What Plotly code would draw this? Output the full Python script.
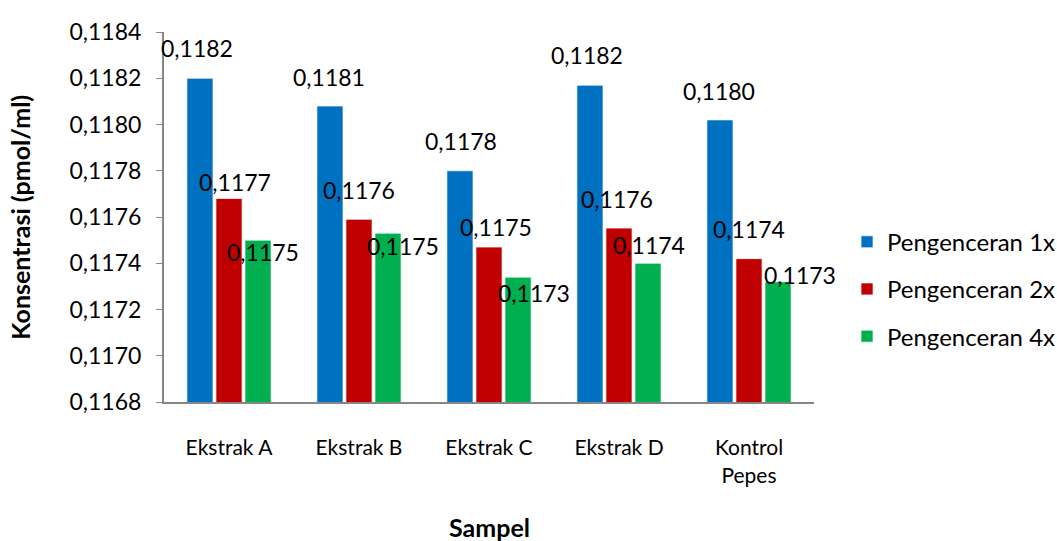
import plotly.graph_objects as go

categories = ["Ekstrak A", "Ekstrak B", "Ekstrak C", "Ekstrak D", "Kontrol<br>Pepes"]
series_names = ["Pengenceran 1x", "Pengenceran 2x", "Pengenceran 4x"]
pengenceran_1x = [0.11820, 0.11808, 0.11780, 0.11817, 0.11802]
pengenceran_2x = [0.11768, 0.11759, 0.11747, 0.117552, 0.11742]
pengenceran_4x = [0.11750, 0.11753, 0.11734, 0.11740, 0.11732]
y_ticks = [0.1168, 0.1170, 0.1172, 0.1174, 0.1176, 0.1178, 0.1180, 0.1182, 0.1184]

colors = ["#0070C0", "#C00000", "#00B050"]
FONT = "Lato"

# label styling (pixel offsets of the data labels, per series / point)
label_xshift = [[-32, -30, -28, -32, -30], [6, 0, 7, -2, 0], [34, 44, 45, 30, 51]]
label_yshift = [[28, 27, 28, 28, 27], [15, 27, 18, 27, 28], [-14, -15, -18, 16, 5]]

all_series = [pengenceran_1x, pengenceran_2x, pengenceran_4x]

fig = go.Figure()
for i, (name, vals) in enumerate(zip(series_names, all_series)):
    fig.add_trace(go.Bar(
        x=categories, y=vals, name=name,
        marker=dict(color=colors[i], line=dict(color="rgba(255,255,255,0.7)", width=1)),
        legendgroup=name,
    ))

annotations = []
for i, vals in enumerate(all_series):
    for j, v in enumerate(vals):
        annotations.append(dict(
            x=categories[j], y=v, xref="x", yref="y",
            text=f"{v:.4f}".replace(".", ","),
            showarrow=False, xanchor="center", yanchor="bottom",
            xshift=label_xshift[i][j], yshift=label_yshift[i][j] - 14,
            font=dict(family=FONT, size=23, color="#000000"),
        ))

annotations.append(dict(
    text="<b>Konsentrasi (pmol/ml)</b>", x=-0.222, y=0.5, xref="paper", yref="paper",
    textangle=-90, showarrow=False, xanchor="center", yanchor="middle",
    font=dict(family=FONT, size=25, color="#000000"),
))
annotations.append(dict(
    text="<b>Sampel</b>", x=0.5, y=-0.338, xref="paper", yref="paper",
    showarrow=False, xanchor="center", yanchor="middle",
    font=dict(family=FONT, size=25, color="#000000"),
))

fig.update_layout(
    width=1057, height=541,
    margin=dict(l=164, r=243, t=32, b=139, autoexpand=False),
    paper_bgcolor="white", plot_bgcolor="white",
    separators=", ",
    barmode="group", bargap=0.33, bargroupgap=0.1,
    font=dict(family=FONT, size=22, color="#000000"),
    showlegend=True,
    legend=dict(
        x=1.0508, y=0.305, xanchor="left", yanchor="middle",
        font=dict(family=FONT, size=24, color="#000000"),
        traceorder="grouped", tracegroupgap=13,
        bgcolor="rgba(0,0,0,0)",
    ),
    annotations=annotations,
)
fig.update_yaxes(
    range=[0.1168, 0.1184], tickvals=y_ticks,
    ticktext=[f"{t:.4f}".replace(".", ",") for t in y_ticks],
    showline=True, linecolor="#868686", linewidth=2,
    ticks="outside", ticklen=6, tickcolor="#868686", ticklabelstandoff=10,
    showgrid=False, zeroline=False, automargin=False,
    tickfont=dict(family=FONT, size=23, color="#000000"),
)
fig.update_xaxes(
    range=[-0.5, len(categories) - 0.5],
    showline=True, linecolor="#868686", linewidth=2,
    ticks="", showgrid=False, ticklabelstandoff=26, automargin=False,
    tickfont=dict(family=FONT, size=21, color="#000000"),
)

fig.write_html(
    "out.html",
    config={"displayModeBar": False},
    post_script="document.body.style.margin='0px';document.body.style.padding='0px';",
)
